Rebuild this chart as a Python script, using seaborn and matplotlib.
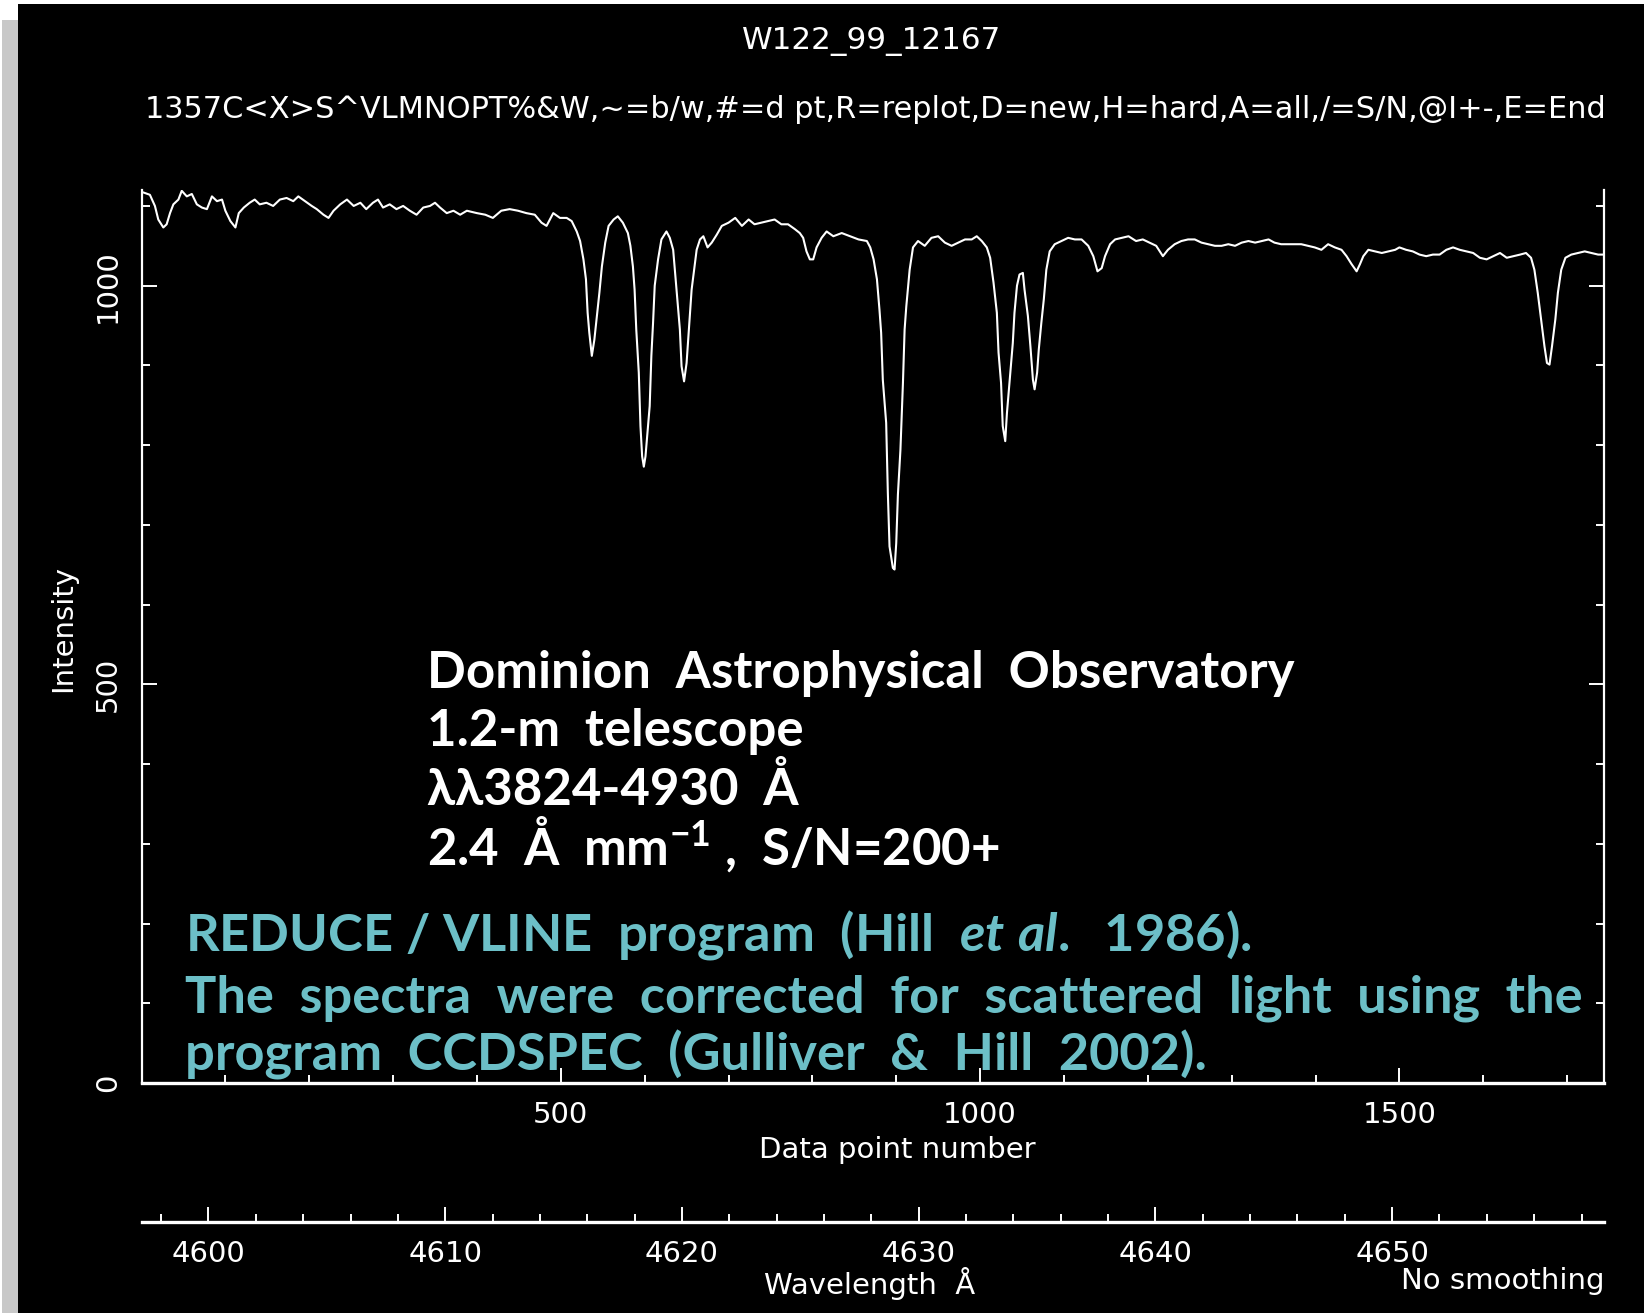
import matplotlib
matplotlib.use("Agg")
import matplotlib.pyplot as plt
from matplotlib.patches import Rectangle
from matplotlib.ticker import MultipleLocator, FixedLocator, NullFormatter
import pandas as pd
import seaborn as sns

# ---- spectrum: data point number vs. intensity ----
pixel = [2, 10, 16, 20, 26, 30, 34, 38, 44, 48, 54, 60, 66, 72, 78, 84, 90, 96, 100, 106,
         112, 116, 122, 129, 135, 141, 149, 157, 165, 173, 181, 187, 195, 203, 209, 217, 223, 229, 237, 245,
         253, 261, 268, 276, 282, 288, 296, 304, 312, 320, 328, 336, 344, 350, 356, 364, 372, 380, 388,
         400, 410, 419, 429, 439, 449, 459, 469, 477, 483, 491, 499, 507, 513, 519, 523, 527, 530, 532,
         534, 537, 540, 543, 546, 549, 553, 557, 563, 568, 574, 580, 583, 586, 588, 590, 593, 595, 597,
         599, 601, 603, 606, 608, 610, 612, 616, 620, 626, 630, 634, 636, 639, 642, 644, 647, 650, 653,
         656, 659, 662, 666, 670, 675, 680, 686, 692, 700, 708, 716, 724, 731, 739, 747, 755, 763, 771,
         779, 785, 789, 793, 797, 801, 805, 811, 817, 825, 835, 845, 855, 865, 869, 873, 877, 880, 882,
         884, 888, 890, 892, 896, 898, 900, 902, 905, 908, 910, 912, 916, 920, 926, 934, 942, 950, 958,
         966, 974, 982, 990, 996, 1002, 1008, 1012, 1016, 1020, 1022, 1025, 1027, 1030, 1032, 1035, 1039,
         1041, 1044, 1047, 1051, 1053, 1057, 1060, 1063, 1065, 1068, 1070, 1073, 1076, 1079, 1083, 1089,
         1097, 1105, 1113, 1121, 1129, 1135, 1140, 1145, 1149, 1155, 1161, 1169, 1177, 1186, 1194, 1202,
         1210, 1218, 1224, 1232, 1240, 1248, 1256, 1264, 1272, 1280, 1288, 1296, 1304, 1312, 1320, 1328,
         1336, 1344, 1351, 1359, 1367, 1375, 1383, 1391, 1399, 1407, 1415, 1423, 1431, 1437, 1443, 1449,
         1453, 1457, 1463, 1471, 1479, 1487, 1495, 1500, 1508, 1516, 1524, 1532, 1540, 1548, 1556, 1564,
         1572, 1580, 1588, 1596, 1604, 1612, 1620, 1628, 1636, 1644, 1651, 1657, 1661, 1665, 1669, 1673,
         1676, 1679, 1682, 1686, 1689, 1693, 1698, 1705, 1713, 1721, 1729, 1737, 1744]
intensity = [1117, 1114, 1100, 1083, 1073, 1077, 1091, 1102, 1108, 1119, 1112, 1115, 1102, 1098, 1096, 1112, 1106, 1108, 1094, 1081,
             1073, 1091, 1098, 1104, 1108, 1102, 1104, 1100, 1108, 1110, 1106, 1112, 1106, 1100, 1096, 1089, 1085, 1094, 1102, 1108,
             1100, 1104, 1096, 1104, 1108, 1098, 1102, 1096, 1100, 1094, 1089, 1098, 1100, 1104, 1098, 1091, 1094, 1089, 1094,
             1091, 1089, 1085, 1094, 1096, 1094, 1091, 1089, 1079, 1075, 1091, 1085, 1085, 1081, 1068, 1056, 1033, 1008, 966,
             941, 912, 932, 962, 991, 1024, 1054, 1075, 1083, 1087, 1079, 1066, 1050, 1024, 995, 945, 891, 824, 786,
             773, 786, 811, 849, 912, 953, 1000, 1033, 1058, 1068, 1060, 1045, 1020, 983, 945, 899, 880, 903, 949,
             995, 1020, 1045, 1058, 1062, 1048, 1054, 1064, 1075, 1079, 1085, 1075, 1083, 1077, 1079, 1081, 1083, 1077, 1077,
             1071, 1066, 1060, 1043, 1033, 1033, 1048, 1060, 1068, 1062, 1066, 1062, 1058, 1056, 1048, 1033, 1008, 970, 941,
             882, 828, 740, 673, 646, 644, 677, 738, 794, 878, 945, 974, 1020, 1048, 1056, 1050, 1060, 1062, 1054,
             1050, 1054, 1058, 1058, 1062, 1056, 1048, 1035, 1004, 966, 916, 878, 824, 805, 840, 878, 928,
             966, 1000, 1014, 1016, 995, 962, 924, 882, 870, 891, 920, 953, 983, 1020, 1043, 1052,
             1056, 1060, 1058, 1058, 1050, 1037, 1018, 1022, 1037, 1052, 1058, 1060, 1062, 1056, 1058, 1054,
             1050, 1037, 1045, 1052, 1056, 1058, 1058, 1054, 1052, 1050, 1050, 1052, 1050, 1054, 1056, 1054,
             1056, 1058, 1054, 1052, 1052, 1052, 1052, 1050, 1048, 1045, 1052, 1048, 1045, 1037, 1027, 1018,
             1027, 1037, 1045, 1043, 1041, 1043, 1045, 1048, 1045, 1043, 1039, 1037, 1039, 1039, 1045, 1048,
             1045, 1043, 1041, 1035, 1033, 1037, 1041, 1035, 1037, 1039, 1041, 1035, 1020, 991, 958, 924,
             903, 901, 924, 958, 991, 1020, 1035, 1039, 1041, 1043, 1041, 1039, 1039]

y_major = [0, 500, 1000]
x_major = [500, 1000, 1500]
wl_major = [4600, 4610, 4620, 4630, 4640, 4650]
wl_limits = (4597.17, 4658.95)

title = "W122_99_12167"
command = "1357C<X>S^VLMNOPT%&W,~=b/w,#=d pt,R=replot,D=new,H=hard,A=all,/=S/N,@I+-,E=End"
info_lines = ["Dominion  Astrophysical  Observatory",
              "1.2-m  telescope",
              "λλ3824-4930  Å",
              r"2.4  Å  mm$^{-1}$ ,  S/N=200+"]
note_lines = [r"REDUCE / VLINE  program  (Hill  $\it{et\ al.}$  1986).",
              "The  spectra  were  corrected  for  scattered  light  using  the",
              "program  CCDSPEC  (Gulliver  &  Hill  2002)."]

FG = "white"
CYAN = "#6cbfc7"

sns.set_theme(style="ticks", rc={
    "axes.facecolor": "black", "figure.facecolor": "white",
    "axes.edgecolor": FG, "axes.labelcolor": FG, "text.color": FG,
    "xtick.color": FG, "ytick.color": FG,
})
plt.rcParams["font.family"] = ["DejaVu Sans"]
plt.rcParams["mathtext.fontset"] = "custom"
plt.rcParams["mathtext.rm"] = "Lato:bold"
plt.rcParams["mathtext.it"] = "Lato:italic:bold"
plt.rcParams["mathtext.bf"] = "Lato:bold"

W, H = 1644, 1313
def fx(px):
    return px / W
def fy(py):
    return 1 - py / H

fig = plt.figure(figsize=(W / 100, H / 100), dpi=100)
fig.add_artist(Rectangle((fx(18), 0), 1 - fx(18), fy(4), transform=fig.transFigure,
                         facecolor="black", edgecolor="none", zorder=-10))
fig.add_artist(Rectangle((fx(2), 0), fx(16), fy(20), transform=fig.transFigure,
                         facecolor="#c8c8c8", edgecolor="none", zorder=-10))

LEFT, RIGHT, BOTTOM, TOP = 141.5, 1604, 1083, 190
ax = fig.add_axes([fx(LEFT), fy(BOTTOM), fx(RIGHT) - fx(LEFT), fy(TOP) - fy(BOTTOM)])

df = pd.DataFrame({"pixel": pixel, "intensity": intensity})
sns.lineplot(data=df, x="pixel", y="intensity", ax=ax, color=FG, linewidth=1.5,
             estimator=None, sort=False)

ax.set_xlim(0, 1744)
ax.set_ylim(0, 1120)
ax.spines["top"].set_visible(False)
for side in ("left", "right"):
    ax.spines[side].set_linewidth(1.6)
    ax.spines[side].set_color(FG)
ax.spines["bottom"].set_linewidth(2.4)
ax.spines["bottom"].set_color(FG)

HS = 21  # plotting-package label size
ax.xaxis.set_major_locator(FixedLocator(x_major))
ax.xaxis.set_minor_locator(MultipleLocator(100))
ax.set_xticklabels([str(v) for v in x_major])
ax.yaxis.set_major_locator(FixedLocator(y_major))
ax.yaxis.set_minor_locator(MultipleLocator(100))
ax.set_yticklabels([str(v) for v in y_major], rotation=90, ha="center", va="center")
ax.tick_params(which="both", direction="in", top=False, right=True, width=1.4,
               colors=FG, labelsize=HS)
ax.tick_params(which="major", length=11)
ax.tick_params(which="minor", length=6)
ax.tick_params(axis="x", pad=13)
ax.tick_params(axis="y", pad=24)
for lbl in ax.get_yticklabels():
    lbl.set_ha("center")

ax.set_xlabel("Data point number", fontsize=HS, va="center")
ax.xaxis.set_label_coords((897 - LEFT) / (RIGHT - LEFT), (BOTTOM - 1150) / (BOTTOM - TOP))
ax.set_ylabel("Intensity", fontsize=HS, va="center")
ax.yaxis.set_label_coords((63 - LEFT) / (RIGHT - LEFT), (BOTTOM - 628) / (BOTTOM - TOP))

# wavelength scale below the pixel axis
axw = fig.add_axes([fx(LEFT), fy(1221.5), fx(RIGHT) - fx(LEFT), 0.0005])
axw.set_facecolor("none")
axw.set_xlim(*wl_limits)
for side in ("left", "right", "top"):
    axw.spines[side].set_visible(False)
axw.spines["bottom"].set_linewidth(2.4)
axw.spines["bottom"].set_color(FG)
axw.set_yticks([])
axw.xaxis.set_major_locator(FixedLocator(wl_major))
axw.xaxis.set_minor_locator(MultipleLocator(2))
axw.set_xticklabels([str(v) for v in wl_major])
axw.tick_params(which="both", direction="in", width=1.4, colors=FG, labelsize=HS, pad=13)
axw.tick_params(which="major", length=11)
axw.tick_params(which="minor", length=6)

fig.text(fx(870), fy(1284), "Wavelength  Å", fontsize=HS, ha="center", va="center", color=FG)
fig.text(fx(1604), fy(1281), "No smoothing", fontsize=HS, ha="right", va="center", color=FG)

t_title = fig.text(fx(872), fy(42), title, fontsize=HS, ha="center", va="center", color=FG)
t_cmd = fig.text(fx(145), fy(110), command, fontsize=HS, ha="left", va="center", color=FG)

info_base = [688, 746, 805, 865]
info_txt = [fig.text(fx(427), fy(b), s, fontsize=34, fontweight="bold", color=FG,
                     family=["Lato", "DejaVu Sans"], ha="left", va="baseline")
            for s, b in zip(info_lines, info_base)]
note_base = [951, 1012, 1070]
note_txt = [fig.text(fx(185), fy(b), s, fontsize=34, fontweight="bold", color=CYAN,
                     family=["Lato", "DejaVu Sans"], ha="left", va="baseline")
            for s, b in zip(note_lines, note_base)]

# scale text blocks so their widths fit the layout
def fit(group, ref, width_px):
    for _ in range(2):
        fig.canvas.draw()
        r = fig.canvas.get_renderer()
        w = ref.get_window_extent(r).width
        k = width_px / w
        for t in group:
            t.set_fontsize(t.get_fontsize() * k)

fit([t_cmd], t_cmd, 1459)
fit([t_title], t_title, 259)
fit(info_txt, info_txt[0], 868)
fit(note_txt, note_txt[1], 1396)

fig.savefig("out.png", dpi=100, facecolor=fig.get_facecolor())
